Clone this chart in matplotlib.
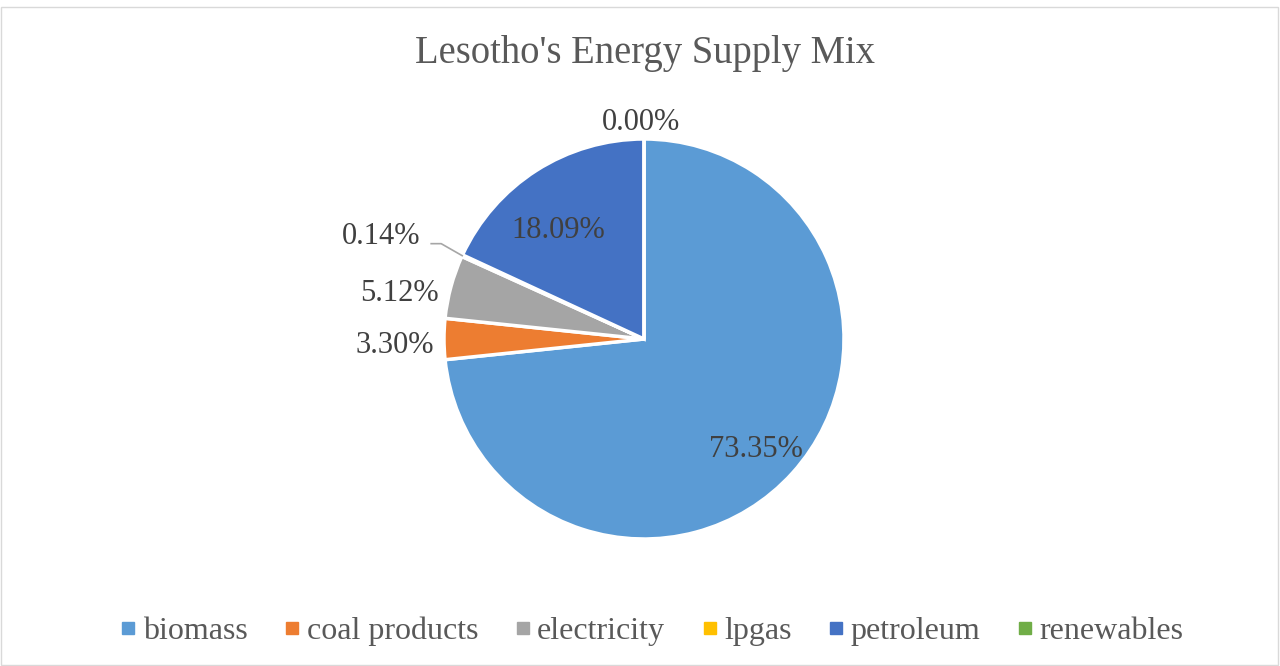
import matplotlib
matplotlib.use('Agg')
import numpy as np
import matplotlib.pyplot as plt
from matplotlib.lines import Line2D
from matplotlib.patches import Rectangle

# Data
categories = ['biomass', 'coal products', 'electricity', 'lpgas', 'petroleum', 'renewables']
shares = [73.35, 3.30, 5.12, 0.14, 18.09, 0.00]
colors = ['#5B9BD5', '#ED7D31', '#A5A5A5', '#FFC000', '#4472C4', '#70AD47']

# label placement (radius factor, angle offset in degrees) per slice
label_radius = [0.785, 1.245, 1.241, 1.41, 0.694, 1.085]
label_shift = [-2.5, 1.6, 4.7, 3.4, 5.7, 0.8]

plt.rcParams['font.family'] = ['Liberation Serif', 'DejaVu Serif']

fig = plt.figure(figsize=(12.8, 6.66), dpi=100)
W, H = 1280, 666
cx, cy, r = 644, 339, 200
ax = fig.add_axes([(cx - r) / W, (H - cy - r) / H, 2 * r / W, 2 * r / H])

wedges, _ = ax.pie(shares, colors=colors, startangle=90, counterclock=False,
                   radius=1.0, wedgeprops=dict(edgecolor='white', linewidth=2.5))
ax.set_xlim(-1, 1)
ax.set_ylim(-1, 1)
ax.axis('off')

for w, val, rf, sh in zip(wedges, shares, label_radius, label_shift):
    mid = np.deg2rad((w.theta1 + w.theta2) / 2)
    ang = mid + np.deg2rad(sh)
    x, y = rf * np.cos(ang), rf * np.sin(ang)
    ax.text(x, y, f'{val:.2f}%', ha='center', va='center', fontsize=22,
            color='#404040', clip_on=False)
    if 0 < val < 0.5:
        # leader line for the tiny lpgas slice
        ex, ey = np.cos(mid), np.sin(mid)
        kx, ky = ex - 0.105, ey + 0.06
        ax.plot([kx - 0.05, kx, ex], [ky, ky, ey],
                color='#A6A6A6', lw=1.2, clip_on=False)

fig.text(645 / W, 1 - 53 / H, "Lesotho's Energy Supply Mix", ha='center', va='center',
         fontsize=27.8, color='#595959')

handles = [Line2D([0], [0], marker='s', color='none', markerfacecolor=c,
                  markeredgecolor=c, markersize=8) for c in colors]
fig.legend(handles, categories, loc='center', bbox_to_anchor=(652 / W, 1 - 631 / H), ncol=6,
           frameon=False, fontsize=23, labelcolor='#595959', handlelength=0.5,
           handletextpad=0.2, columnspacing=1.15)

fig.patches.append(Rectangle((1 / W, 1 / H), 1 - 3 / W, 1 - 8 / H, transform=fig.transFigure,
                             fill=False, edgecolor='#D9D9D9', lw=1))

fig.savefig('out.png', dpi=100, facecolor='white')
